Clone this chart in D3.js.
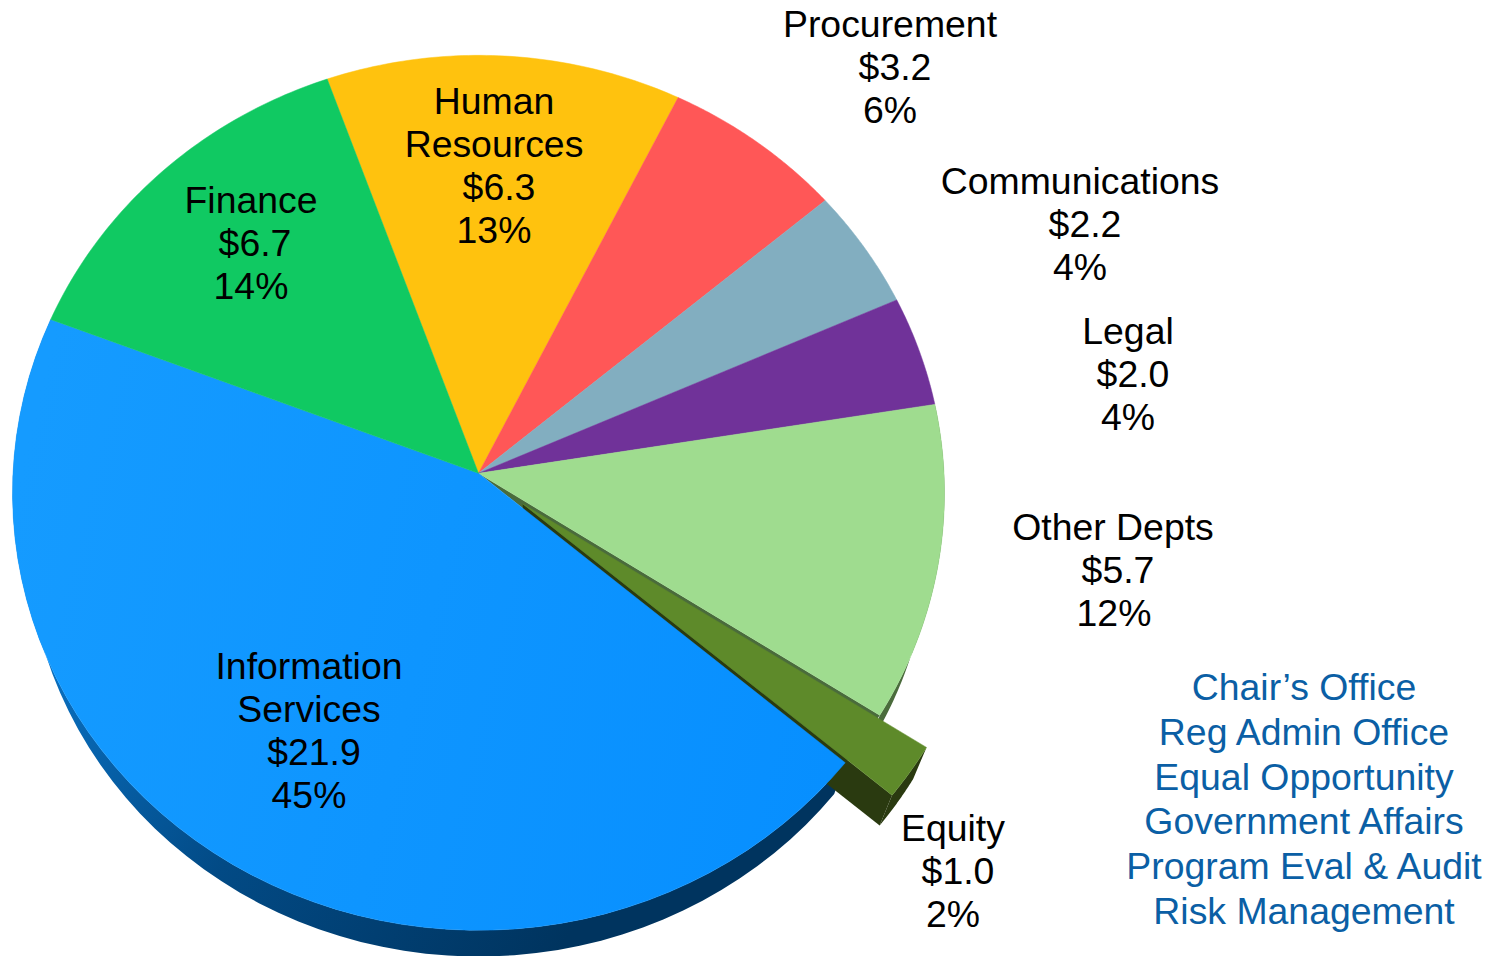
<!DOCTYPE html>
<html>
<head>
  <meta charset="UTF-8">
  <script src="https://d3js.org/d3.v7.min.js"></script>
  <style>
    html, body { margin: 0; padding: 0; background: #fff; }
    svg { display: block; }
    text { font-family: "Liberation Sans", Arial, sans-serif; font-size: 37.4px; text-anchor: middle; }
  </style>
</head>
<body>
  <svg id="chart" width="1489" height="956"></svg>
  <script>
    // data, clockwise from the top of the pie
    const departments = ["Human Resources", "Procurement", "Communications", "Legal", "Other Depts", "Equity", "Information Services", "Finance"];
    const amounts = [6.3, 3.2, 2.2, 2.0, 5.7, 1.0, 21.9, 6.7];
    const percents = ["13%", "6%", "4%", "4%", "12%", "2%", "45%", "14%"];
    const otherOffices = ["Chair\u2019s Office", "Reg Admin Office", "Equal Opportunity", "Government Affairs", "Program Eval & Audit", "Risk Management"];

    // colours in the same order as departments
    const topColors = ["#ffc20e", "#ff5757", "#82aec0", "#703299", "#9fdc8f", "#5e8a2a", "url(#isTop)", "#10c962"];

    // label layout: first baseline and a centre x for each line
    const labelLayout = {
      "Human Resources": {y: 114, x: [494, 494, 499, 494]},
      "Procurement": {y: 37, x: [890, 895, 890]},
      "Communications": {y: 194, x: [1080, 1085, 1080]},
      "Legal": {y: 344, x: [1128, 1133, 1128]},
      "Other Depts": {y: 540.3, x: [1113, 1118, 1114]},
      "Equity": {y: 841, x: [953, 958, 953]},
      "Information Services": {y: 679.3, x: [309, 309, 314, 309]},
      "Finance": {y: 213, x: [251, 255, 251]}
    };

    // tilted pie: unit circle to screen with a little perspective
    const cx = 478.5, cy = 473.3, ax = 465.5, ay = 436.6, persp = -0.0446;
    const baseScale = 0.97, baseDrop = 40, explode = 0.118;

    function project(t, r, off, base) {
      // t is clockwise from the top, off is the explode shift in unit coords
      const ux = r * Math.sin(t) + off[0], uy = -r * Math.cos(t) + off[1];
      const w = 1 + persp * uy, s = base ? baseScale : 1;
      return [cx + s * ax * ux / w, cy + (base ? baseDrop : 0) + s * ay * uy / w];
    }

    const startAngle = -19.8 * Math.PI / 180;
    const arcs = d3.pie().sort(null).startAngle(startAngle).endAngle(startAngle + 2 * Math.PI)(amounts);

    const line = d3.line();
    const noShift = [0, 0];

    function rim(a, off, base) {
      return d3.range(0, 61).map(i => project(a.startAngle + (a.endAngle - a.startAngle) * i / 60, 1, off, base));
    }
    function shiftOf(i) {
      if (departments[i] !== "Equity") return noShift;
      const mid = (arcs[i].startAngle + arcs[i].endAngle) / 2;
      return [explode * Math.sin(mid), -explode * Math.cos(mid)];
    }

    const svg = d3.select("#chart");
    const defs = svg.append("defs");

    function gradient(id, x1, y1, x2, y2, stops) {
      const g = defs.append("linearGradient").attr("id", id).attr("gradientUnits", "userSpaceOnUse")
        .attr("x1", x1).attr("y1", y1).attr("x2", x2).attr("y2", y2);
      stops.forEach(s => g.append("stop").attr("offset", s[0]).attr("stop-color", s[1]));
    }
    gradient("isTop", 13, 500, 850, 700, [[0, "#159bff"], [1, "#078fff"]]);
    gradient("isSide", 40, 640, 560, 950, [[0, "#0a72c4"], [0.45, "#024a85"], [1, "#00345f"]]);

    const iIS = departments.indexOf("Information Services");
    const iOther = departments.indexOf("Other Depts");
    const iEq = departments.indexOf("Equity");
    const eqShift = shiftOf(iEq);

    // outer walls
    svg.append("path")
      .attr("d", line(rim(arcs[iIS], noShift, false).concat(rim(arcs[iIS], noShift, true).reverse())) + "Z")
      .attr("fill", "url(#isSide)");
    svg.append("path")
      .attr("d", line(rim(arcs[iOther], noShift, false).concat(rim(arcs[iOther], noShift, true).reverse())) + "Z")
      .attr("fill", "#4a6b3c");

    // the gap left by the pulled out slice
    const apex = project(0, 0, noShift, false);
    const gapRim = rim(arcs[iEq], noShift, false);
    svg.append("path")
      .attr("d", line([apex].concat(gapRim)) + "Z")
      .attr("fill", "#4a6b3c");

    // walls of the pulled out slice
    const eqTop = rim(arcs[iEq], eqShift, false);
    const eqBase = rim(arcs[iEq], eqShift, true);
    const eqApex = project(0, 0, eqShift, false);
    const eqApexBase = project(0, 0, eqShift, true);
    svg.append("path")
      .attr("d", line(eqTop.concat(eqBase.slice().reverse())) + "Z")
      .attr("fill", "#2a3a10");
    svg.append("path")
      .attr("d", line([eqApex, eqTop[60], eqBase[60], eqApexBase]) + "Z")
      .attr("fill", "#2a3a10");

    // top faces, thin same colour stroke hides the seams between slices
    svg.append("g").selectAll("path")
      .data(arcs)
      .enter()
      .append("path")
        .attr("d", (d, i) => {
          const off = shiftOf(i);
          return line([project(0, 0, off, false)].concat(rim(d, off, false))) + "Z";
        })
        .attr("fill", (d, i) => topColors[i])
        .attr("stroke", (d, i) => topColors[i])
        .attr("stroke-width", 0.5);

    // labels inside and around the pie
    departments.forEach((name, i) => {
      const lay = labelLayout[name];
      const isWrapped = lay.x.length === 4;
      const lines = (isWrapped ? name.split(" ") : [name])
        .concat(["$" + amounts[i].toFixed(1), percents[i]]);
      const label = svg.append("text").attr("fill", "#000");
      lines.forEach((l, j) => {
        label.append("tspan").attr("x", lay.x[j]).attr("y", lay.y + j * 43).text(l);
      });
    });

    // offices without a slice of their own
    svg.append("g").selectAll("text")
      .data(otherOffices)
      .enter()
      .append("text")
        .attr("x", 1304)
        .attr("y", (d, i) => 700 + i * 44.8)
        .attr("fill", "#0b5fa5")
        .text(d => d);
  </script>
</body>
</html>
